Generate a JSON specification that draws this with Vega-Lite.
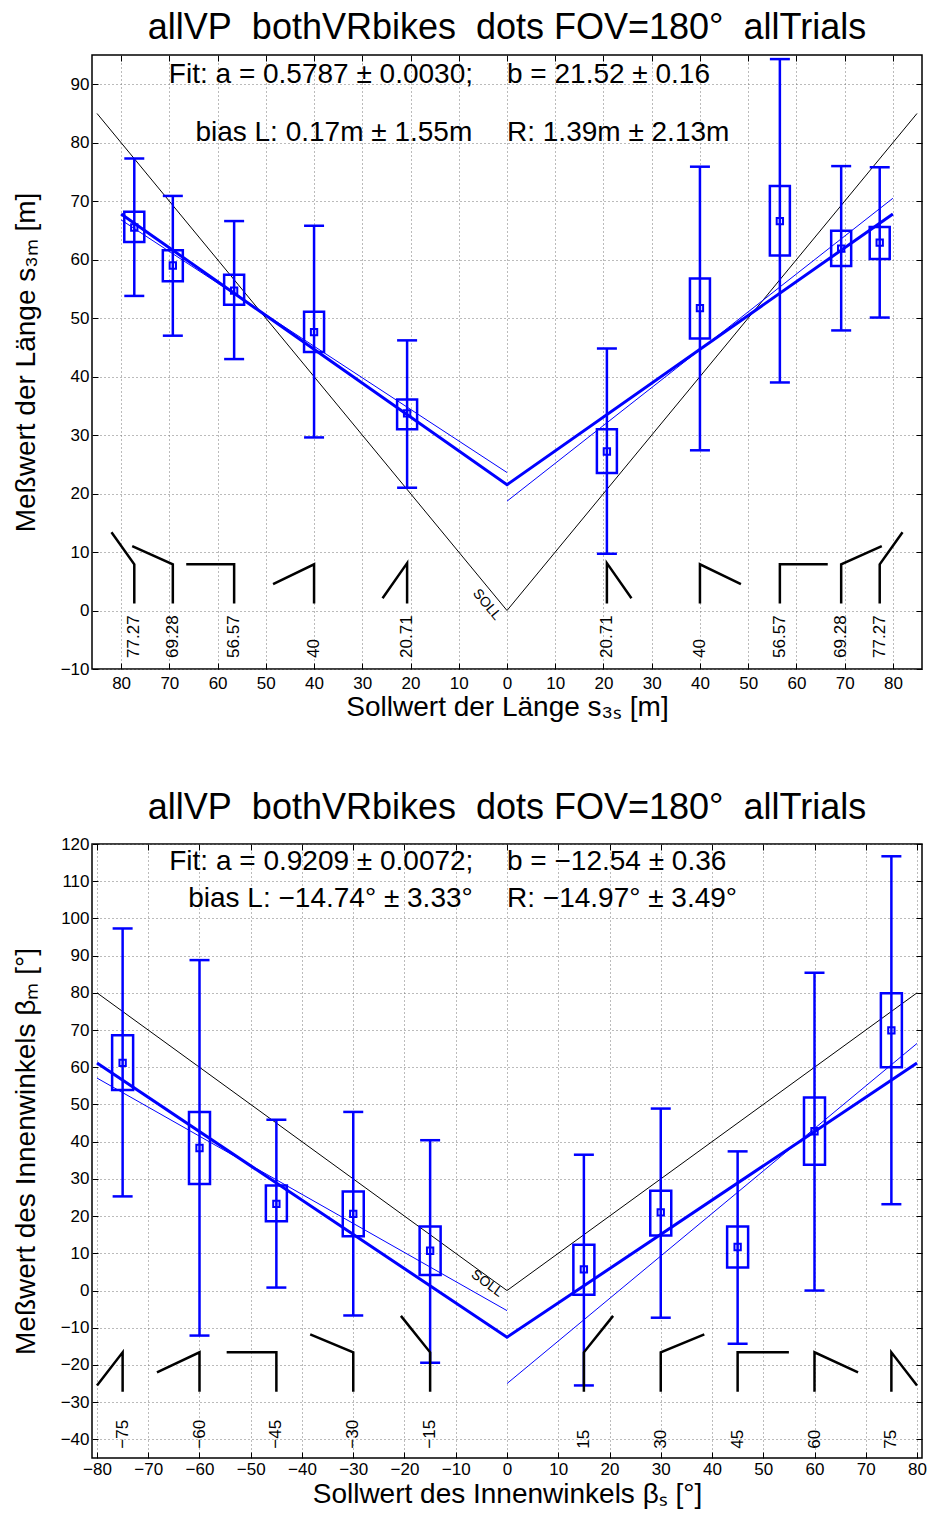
{
  "$schema": "https://vega.github.io/schema/vega-lite/v6.json",
  "padding": {"top": 8, "left": 11, "right": 8, "bottom": 0},
  "spacing": 67,
  "config": {
    "font": "Liberation Sans",
    "view": {"stroke": "black", "strokeWidth": 1.5},
    "axis": {
      "labelFont": "Liberation Sans", "labelFontSize": 17, "labelColor": "black",
      "titleFont": "Liberation Sans", "titleFontSize": 28, "titleFontWeight": "normal", "titleColor": "black",
      "domain": false, "tickColor": "black", "tickSize": -6, "tickWidth": 1,
      "gridDash": [1, 3], "gridColor": "#777", "gridOpacity": 1, "gridWidth": 1,
      "labelFlush": false, "labelOverlap": false
    },
    "title": {"font": "Liberation Sans", "fontSize": 36, "fontWeight": "normal", "color": "black", "offset": 8}
  },
  "datasets": {
    "tl": [
      {"s": "soll", "x": -85, "y": 85}, {"s": "soll", "x": 0, "y": 0}, {"s": "soll", "x": 85, "y": 85},
      {"s": "fit", "x": -80, "y": 67.82}, {"s": "fit", "x": 0, "y": 21.52}, {"s": "fit", "x": 80, "y": 67.82},
      {"s": "left", "x": -80, "y": 66.8}, {"s": "left", "x": 0, "y": 23.6},
      {"s": "right", "x": 0, "y": 18.7}, {"s": "right", "x": 80, "y": 70.5}
    ],
    "tb": [
      {"x": -77.27, "mean": 65.5, "qlo": 63.0, "qhi": 68.2, "wlo": 53.8, "whi": 77.3},
      {"x": -69.28, "mean": 59.0, "qlo": 56.3, "qhi": 61.6, "wlo": 47.0, "whi": 70.9},
      {"x": -56.57, "mean": 54.7, "qlo": 52.3, "qhi": 57.4, "wlo": 43.0, "whi": 66.6},
      {"x": -40, "mean": 47.6, "qlo": 44.2, "qhi": 51.1, "wlo": 29.6, "whi": 65.8},
      {"x": -20.71, "mean": 33.7, "qlo": 31.0, "qhi": 36.1, "wlo": 21.0, "whi": 46.2},
      {"x": 20.71, "mean": 27.2, "qlo": 23.5, "qhi": 31.0, "wlo": 9.7, "whi": 44.8},
      {"x": 40, "mean": 51.7, "qlo": 46.5, "qhi": 56.8, "wlo": 27.4, "whi": 75.9},
      {"x": 56.57, "mean": 66.6, "qlo": 60.7, "qhi": 72.6, "wlo": 39.0, "whi": 94.3},
      {"x": 69.28, "mean": 61.9, "qlo": 58.9, "qhi": 64.95, "wlo": 47.9, "whi": 76.0},
      {"x": 77.27, "mean": 62.9, "qlo": 60.1, "qhi": 65.6, "wlo": 50.1, "whi": 75.8}
    ],
    "tg": [
      {"g": "a", "o": 0, "x": -77.27, "y": 1.2}, {"g": "a", "o": 1, "x": -77.27, "y": 7.9}, {"g": "a", "o": 2, "x": -82.0, "y": 13.4},
      {"g": "b", "o": 0, "x": -69.28, "y": 1.2}, {"g": "b", "o": 1, "x": -69.28, "y": 7.9}, {"g": "b", "o": 2, "x": -77.7, "y": 11.0},
      {"g": "c", "o": 0, "x": -56.57, "y": 1.2}, {"g": "c", "o": 1, "x": -56.57, "y": 7.9}, {"g": "c", "o": 2, "x": -66.5, "y": 7.9},
      {"g": "d", "o": 0, "x": -40, "y": 1.2}, {"g": "d", "o": 1, "x": -40, "y": 7.9}, {"g": "d", "o": 2, "x": -48.5, "y": 4.5},
      {"g": "e", "o": 0, "x": -20.71, "y": 1.2}, {"g": "e", "o": 1, "x": -20.71, "y": 8.1}, {"g": "e", "o": 2, "x": -25.8, "y": 2.1},
      {"g": "f", "o": 0, "x": 20.71, "y": 1.2}, {"g": "f", "o": 1, "x": 20.71, "y": 8.1}, {"g": "f", "o": 2, "x": 25.8, "y": 2.1},
      {"g": "h", "o": 0, "x": 40, "y": 1.2}, {"g": "h", "o": 1, "x": 40, "y": 7.9}, {"g": "h", "o": 2, "x": 48.5, "y": 4.5},
      {"g": "i", "o": 0, "x": 56.57, "y": 1.2}, {"g": "i", "o": 1, "x": 56.57, "y": 7.9}, {"g": "i", "o": 2, "x": 66.5, "y": 7.9},
      {"g": "j", "o": 0, "x": 69.28, "y": 1.2}, {"g": "j", "o": 1, "x": 69.28, "y": 7.9}, {"g": "j", "o": 2, "x": 77.7, "y": 11.0},
      {"g": "k", "o": 0, "x": 77.27, "y": 1.2}, {"g": "k", "o": 1, "x": 77.27, "y": 7.9}, {"g": "k", "o": 2, "x": 82.0, "y": 13.4}
    ],
    "tn": [
      {"x": -77.27, "t": "77.27"}, {"x": -69.28, "t": "69.28"}, {"x": -56.57, "t": "56.57"}, {"x": -40, "t": "40"}, {"x": -20.71, "t": "20.71"},
      {"x": 20.71, "t": "20.71"}, {"x": 40, "t": "40"}, {"x": 56.57, "t": "56.57"}, {"x": 69.28, "t": "69.28"}, {"x": 77.27, "t": "77.27"}
    ],
    "tt": [
      {"t": "Fit: a = 0.5787 ± 0.0030;", "x": -70.1, "y": 91.6},
      {"t": "b = 21.52 ± 0.16", "x": 0, "y": 91.6},
      {"t": "bias L: 0.17m ± 1.55m", "x": -64.6, "y": 81.7},
      {"t": "R: 1.39m ± 2.13m", "x": 0, "y": 81.7}
    ],
    "ts": [{"t": "SOLL", "x": -4.2, "y": 1.0}],
    "bl": [
      {"s": "soll", "x": -80, "y": 80}, {"s": "soll", "x": 0, "y": 0}, {"s": "soll", "x": 80, "y": 80},
      {"s": "fit", "x": -80, "y": 61.13}, {"s": "fit", "x": 0, "y": -12.54}, {"s": "fit", "x": 80, "y": 61.13},
      {"s": "left", "x": -80, "y": 57.1}, {"s": "left", "x": 0, "y": -5.4},
      {"s": "right", "x": 0, "y": -25.0}, {"s": "right", "x": 80, "y": 66.4}
    ],
    "bb": [
      {"x": -75, "mean": 61.2, "qlo": 53.9, "qhi": 68.6, "wlo": 25.3, "whi": 97.3},
      {"x": -60, "mean": 38.3, "qlo": 28.6, "qhi": 48.0, "wlo": -12.1, "whi": 88.8},
      {"x": -45, "mean": 23.3, "qlo": 18.6, "qhi": 28.2, "wlo": 0.8, "whi": 45.9},
      {"x": -30, "mean": 20.6, "qlo": 14.6, "qhi": 26.6, "wlo": -6.7, "whi": 48.0},
      {"x": -15, "mean": 10.7, "qlo": 4.2, "qhi": 17.2, "wlo": -19.4, "whi": 40.4},
      {"x": 15, "mean": 5.7, "qlo": -1.1, "qhi": 12.3, "wlo": -25.5, "whi": 36.5},
      {"x": 30, "mean": 21.0, "qlo": 14.8, "qhi": 26.8, "wlo": -7.3, "whi": 48.9},
      {"x": 45, "mean": 11.7, "qlo": 6.2, "qhi": 17.2, "wlo": -14.3, "whi": 37.4},
      {"x": 60, "mean": 42.8, "qlo": 33.8, "qhi": 51.9, "wlo": 0.0, "whi": 85.4},
      {"x": 75, "mean": 69.9, "qlo": 60.0, "qhi": 79.9, "wlo": 23.2, "whi": 116.7}
    ],
    "bg": [
      {"g": "a", "o": 0, "x": -75, "y": -27.2}, {"g": "a", "o": 1, "x": -75, "y": -16.6}, {"g": "a", "o": 2, "x": -80, "y": -25.5},
      {"g": "b", "o": 0, "x": -60, "y": -27.2}, {"g": "b", "o": 1, "x": -60, "y": -16.6}, {"g": "b", "o": 2, "x": -68.3, "y": -22.0},
      {"g": "c", "o": 0, "x": -45, "y": -27.2}, {"g": "c", "o": 1, "x": -45, "y": -16.6}, {"g": "c", "o": 2, "x": -54.7, "y": -16.6},
      {"g": "d", "o": 0, "x": -30, "y": -27.2}, {"g": "d", "o": 1, "x": -30, "y": -16.6}, {"g": "d", "o": 2, "x": -38.4, "y": -11.8},
      {"g": "e", "o": 0, "x": -15, "y": -27.2}, {"g": "e", "o": 1, "x": -15, "y": -16.6}, {"g": "e", "o": 2, "x": -20.7, "y": -6.8},
      {"g": "f", "o": 0, "x": 15, "y": -27.2}, {"g": "f", "o": 1, "x": 15, "y": -16.6}, {"g": "f", "o": 2, "x": 20.7, "y": -6.8},
      {"g": "h", "o": 0, "x": 30, "y": -27.2}, {"g": "h", "o": 1, "x": 30, "y": -16.6}, {"g": "h", "o": 2, "x": 38.5, "y": -11.8},
      {"g": "i", "o": 0, "x": 45, "y": -27.2}, {"g": "i", "o": 1, "x": 45, "y": -16.6}, {"g": "i", "o": 2, "x": 55.0, "y": -16.6},
      {"g": "j", "o": 0, "x": 60, "y": -27.2}, {"g": "j", "o": 1, "x": 60, "y": -16.6}, {"g": "j", "o": 2, "x": 68.5, "y": -22.0},
      {"g": "k", "o": 0, "x": 75, "y": -27.2}, {"g": "k", "o": 1, "x": 75, "y": -16.6}, {"g": "k", "o": 2, "x": 80, "y": -25.5}
    ],
    "bn": [
      {"x": -75, "t": "−75"}, {"x": -60, "t": "−60"}, {"x": -45, "t": "−45"}, {"x": -30, "t": "−30"}, {"x": -15, "t": "−15"},
      {"x": 15, "t": "15"}, {"x": 30, "t": "30"}, {"x": 45, "t": "45"}, {"x": 60, "t": "60"}, {"x": 75, "t": "75"}
    ],
    "bt": [
      {"t": "Fit: a = 0.9209 ± 0.0072;", "x": -65.9, "y": 115.1},
      {"t": "b = −12.54 ± 0.36", "x": 0, "y": 115.1},
      {"t": "bias L: −14.74° ± 3.33°", "x": -62.2, "y": 105.1},
      {"t": "R: −14.97° ± 3.49°", "x": 0, "y": 105.1}
    ],
    "bs": [{"t": "SOLL", "x": -3.9, "y": 1.9}]
  },
  "vconcat": [
    {
      "title": {"text": "allVP\u00a0 bothVRbikes\u00a0 dots FOV=180°\u00a0 allTrials"},
      "width": 830, "height": 614,
      "resolve": {"axis": {"x": "independent", "y": "independent"}},
      "layer": [
        {
          "data": {"name": "tl"},
          "transform": [{"filter": "datum.s === 'soll'"}],
          "mark": {"type": "line", "color": "black", "strokeWidth": 1},
          "encoding": {
            "x": {"field": "x", "type": "quantitative", "scale": {"domain": [-85, 85], "nice": false, "zero": false},
              "axis": {"orient": "bottom", "values": [-80, -70, -60, -50, -40, -30, -20, -10, 0, 10, 20, 30, 40, 50, 60, 70, 80], "labelExpr": "abs(datum.value)", "grid": true, "labelPadding": 12, "titlePadding": 2, "title": "Sollwert der Länge s₃ₛ [m]"}},
            "y": {"field": "y", "type": "quantitative", "scale": {"domain": [-10, 95], "nice": false, "zero": false},
              "axis": {"orient": "left", "values": [-10, 0, 10, 20, 30, 40, 50, 60, 70, 80, 90], "grid": true, "labelPadding": 9, "titlePadding": 20, "title": "Meßwert der Länge s₃ₘ [m]"}}
          }
        },
        {
          "data": {"name": "tl"},
          "transform": [{"filter": "datum.s === 'fit'"}],
          "mark": {"type": "line", "color": "#0000ff", "strokeWidth": 3},
          "encoding": {
            "x": {"field": "x", "type": "quantitative", "scale": {"domain": [-85, 85], "nice": false, "zero": false},
              "axis": {"orient": "top", "values": [-80, -70, -60, -50, -40, -30, -20, -10, 0, 10, 20, 30, 40, 50, 60, 70, 80], "labels": false, "grid": false, "title": null}},
            "y": {"field": "y", "type": "quantitative", "scale": {"domain": [-10, 95], "nice": false, "zero": false},
              "axis": {"orient": "right", "values": [-10, 0, 10, 20, 30, 40, 50, 60, 70, 80, 90], "labels": false, "grid": false, "title": null}}
          }
        },
        {
          "data": {"name": "tl"},
          "transform": [{"filter": "datum.s === 'left' || datum.s === 'right'"}],
          "mark": {"type": "line", "color": "#0000ff", "strokeWidth": 1},
          "encoding": {
            "x": {"field": "x", "type": "quantitative", "scale": {"domain": [-85, 85], "nice": false, "zero": false}, "axis": null},
            "y": {"field": "y", "type": "quantitative", "scale": {"domain": [-10, 95], "nice": false, "zero": false}, "axis": null},
            "detail": {"field": "s"}
          }
        },
        {
          "data": {"name": "tb"},
          "mark": {"type": "rule", "color": "#0000ff", "strokeWidth": 2.5},
          "encoding": {
            "x": {"field": "x", "type": "quantitative", "scale": {"domain": [-85, 85], "nice": false, "zero": false}, "axis": null},
            "y": {"field": "wlo", "type": "quantitative", "scale": {"domain": [-10, 95], "nice": false, "zero": false}, "axis": null},
            "y2": {"field": "whi"}
          }
        },
        {
          "data": {"name": "tb"},
          "mark": {"type": "tick", "orient": "horizontal", "color": "#0000ff", "size": 20, "thickness": 2.5, "opacity": 1},
          "encoding": {
            "x": {"field": "x", "type": "quantitative", "scale": {"domain": [-85, 85], "nice": false, "zero": false}, "axis": null},
            "y": {"field": "wlo", "type": "quantitative", "scale": {"domain": [-10, 95], "nice": false, "zero": false}, "axis": null}
          }
        },
        {
          "data": {"name": "tb"},
          "mark": {"type": "tick", "orient": "horizontal", "color": "#0000ff", "size": 20, "thickness": 2.5, "opacity": 1},
          "encoding": {
            "x": {"field": "x", "type": "quantitative", "scale": {"domain": [-85, 85], "nice": false, "zero": false}, "axis": null},
            "y": {"field": "whi", "type": "quantitative", "scale": {"domain": [-10, 95], "nice": false, "zero": false}, "axis": null}
          }
        },
        {
          "data": {"name": "tb"},
          "mark": {"type": "bar", "width": 20, "filled": false, "color": "#0000ff", "strokeWidth": 2.5},
          "encoding": {
            "x": {"field": "x", "type": "quantitative", "scale": {"domain": [-85, 85], "nice": false, "zero": false}, "axis": null},
            "y": {"field": "qlo", "type": "quantitative", "scale": {"domain": [-10, 95], "nice": false, "zero": false}, "axis": null},
            "y2": {"field": "qhi"}
          }
        },
        {
          "data": {"name": "tb"},
          "mark": {"type": "point", "shape": "square", "size": 40, "filled": false, "color": "#0000ff", "strokeWidth": 2, "opacity": 1},
          "encoding": {
            "x": {"field": "x", "type": "quantitative", "scale": {"domain": [-85, 85], "nice": false, "zero": false}, "axis": null},
            "y": {"field": "mean", "type": "quantitative", "scale": {"domain": [-10, 95], "nice": false, "zero": false}, "axis": null}
          }
        },
        {
          "data": {"name": "tg"},
          "mark": {"type": "line", "color": "black", "strokeWidth": 2.5, "strokeJoin": "miter"},
          "encoding": {
            "x": {"field": "x", "type": "quantitative", "scale": {"domain": [-85, 85], "nice": false, "zero": false}, "axis": null},
            "y": {"field": "y", "type": "quantitative", "scale": {"domain": [-10, 95], "nice": false, "zero": false}, "axis": null},
            "detail": {"field": "g"},
            "order": {"field": "o"}
          }
        },
        {
          "data": {"name": "tn"},
          "mark": {"type": "text", "angle": 270, "align": "left", "baseline": "middle", "fontSize": 17, "color": "black"},
          "encoding": {
            "x": {"field": "x", "type": "quantitative", "scale": {"domain": [-85, 85], "nice": false, "zero": false}, "axis": null},
            "y": {"datum": -8.1, "type": "quantitative", "scale": {"domain": [-10, 95], "nice": false, "zero": false}, "axis": null},
            "text": {"field": "t"}
          }
        },
        {
          "data": {"name": "tt"},
          "mark": {"type": "text", "align": "left", "baseline": "middle", "fontSize": 28, "color": "black"},
          "encoding": {
            "x": {"field": "x", "type": "quantitative", "scale": {"domain": [-85, 85], "nice": false, "zero": false}, "axis": null},
            "y": {"field": "y", "type": "quantitative", "scale": {"domain": [-10, 95], "nice": false, "zero": false}, "axis": null},
            "text": {"field": "t"}
          }
        },
        {
          "data": {"name": "ts"},
          "mark": {"type": "text", "align": "center", "baseline": "middle", "fontSize": 14, "angle": 50, "color": "black"},
          "encoding": {
            "x": {"field": "x", "type": "quantitative", "scale": {"domain": [-85, 85], "nice": false, "zero": false}, "axis": null},
            "y": {"field": "y", "type": "quantitative", "scale": {"domain": [-10, 95], "nice": false, "zero": false}, "axis": null},
            "text": {"field": "t"}
          }
        }
      ]
    },
    {
      "title": {"text": "allVP\u00a0 bothVRbikes\u00a0 dots FOV=180°\u00a0 allTrials"},
      "width": 830, "height": 614,
      "resolve": {"axis": {"x": "independent", "y": "independent"}},
      "layer": [
        {
          "data": {"name": "bl"},
          "transform": [{"filter": "datum.s === 'soll'"}],
          "mark": {"type": "line", "color": "black", "strokeWidth": 1},
          "encoding": {
            "x": {"field": "x", "type": "quantitative", "scale": {"domain": [-80, 80], "nice": false, "zero": false},
              "axis": {"orient": "bottom", "values": [-80, -70, -60, -50, -40, -30, -20, -10, 0, 10, 20, 30, 40, 50, 60, 70, 80], "grid": true, "labelPadding": 9, "titlePadding": 3, "title": "Sollwert des Innenwinkels βₛ [°]"}},
            "y": {"field": "y", "type": "quantitative", "scale": {"domain": [-45, 120], "nice": false, "zero": false},
              "axis": {"orient": "left", "values": [-40, -30, -20, -10, 0, 10, 20, 30, 40, 50, 60, 70, 80, 90, 100, 110, 120], "grid": true, "labelPadding": 9, "titlePadding": 20, "title": "Meßwert des Innenwinkels βₘ [°]"}}
          }
        },
        {
          "data": {"name": "bl"},
          "transform": [{"filter": "datum.s === 'fit'"}],
          "mark": {"type": "line", "color": "#0000ff", "strokeWidth": 3},
          "encoding": {
            "x": {"field": "x", "type": "quantitative", "scale": {"domain": [-80, 80], "nice": false, "zero": false},
              "axis": {"orient": "top", "values": [-80, -70, -60, -50, -40, -30, -20, -10, 0, 10, 20, 30, 40, 50, 60, 70, 80], "labels": false, "grid": false, "title": null}},
            "y": {"field": "y", "type": "quantitative", "scale": {"domain": [-45, 120], "nice": false, "zero": false},
              "axis": {"orient": "right", "values": [-40, -30, -20, -10, 0, 10, 20, 30, 40, 50, 60, 70, 80, 90, 100, 110, 120], "labels": false, "grid": false, "title": null}}
          }
        },
        {
          "data": {"name": "bl"},
          "transform": [{"filter": "datum.s === 'left' || datum.s === 'right'"}],
          "mark": {"type": "line", "color": "#0000ff", "strokeWidth": 1},
          "encoding": {
            "x": {"field": "x", "type": "quantitative", "scale": {"domain": [-80, 80], "nice": false, "zero": false}, "axis": null},
            "y": {"field": "y", "type": "quantitative", "scale": {"domain": [-45, 120], "nice": false, "zero": false}, "axis": null},
            "detail": {"field": "s"}
          }
        },
        {
          "data": {"name": "bb"},
          "mark": {"type": "rule", "color": "#0000ff", "strokeWidth": 2.5},
          "encoding": {
            "x": {"field": "x", "type": "quantitative", "scale": {"domain": [-80, 80], "nice": false, "zero": false}, "axis": null},
            "y": {"field": "wlo", "type": "quantitative", "scale": {"domain": [-45, 120], "nice": false, "zero": false}, "axis": null},
            "y2": {"field": "whi"}
          }
        },
        {
          "data": {"name": "bb"},
          "mark": {"type": "tick", "orient": "horizontal", "color": "#0000ff", "size": 20, "thickness": 2.5, "opacity": 1},
          "encoding": {
            "x": {"field": "x", "type": "quantitative", "scale": {"domain": [-80, 80], "nice": false, "zero": false}, "axis": null},
            "y": {"field": "wlo", "type": "quantitative", "scale": {"domain": [-45, 120], "nice": false, "zero": false}, "axis": null}
          }
        },
        {
          "data": {"name": "bb"},
          "mark": {"type": "tick", "orient": "horizontal", "color": "#0000ff", "size": 20, "thickness": 2.5, "opacity": 1},
          "encoding": {
            "x": {"field": "x", "type": "quantitative", "scale": {"domain": [-80, 80], "nice": false, "zero": false}, "axis": null},
            "y": {"field": "whi", "type": "quantitative", "scale": {"domain": [-45, 120], "nice": false, "zero": false}, "axis": null}
          }
        },
        {
          "data": {"name": "bb"},
          "mark": {"type": "bar", "width": 21, "filled": false, "color": "#0000ff", "strokeWidth": 2.5},
          "encoding": {
            "x": {"field": "x", "type": "quantitative", "scale": {"domain": [-80, 80], "nice": false, "zero": false}, "axis": null},
            "y": {"field": "qlo", "type": "quantitative", "scale": {"domain": [-45, 120], "nice": false, "zero": false}, "axis": null},
            "y2": {"field": "qhi"}
          }
        },
        {
          "data": {"name": "bb"},
          "mark": {"type": "point", "shape": "square", "size": 40, "filled": false, "color": "#0000ff", "strokeWidth": 2, "opacity": 1},
          "encoding": {
            "x": {"field": "x", "type": "quantitative", "scale": {"domain": [-80, 80], "nice": false, "zero": false}, "axis": null},
            "y": {"field": "mean", "type": "quantitative", "scale": {"domain": [-45, 120], "nice": false, "zero": false}, "axis": null}
          }
        },
        {
          "data": {"name": "bg"},
          "mark": {"type": "line", "color": "black", "strokeWidth": 2.5, "strokeJoin": "miter"},
          "encoding": {
            "x": {"field": "x", "type": "quantitative", "scale": {"domain": [-80, 80], "nice": false, "zero": false}, "axis": null},
            "y": {"field": "y", "type": "quantitative", "scale": {"domain": [-45, 120], "nice": false, "zero": false}, "axis": null},
            "detail": {"field": "g"},
            "order": {"field": "o"}
          }
        },
        {
          "data": {"name": "bn"},
          "mark": {"type": "text", "angle": 270, "align": "left", "baseline": "middle", "fontSize": 17, "color": "black"},
          "encoding": {
            "x": {"field": "x", "type": "quantitative", "scale": {"domain": [-80, 80], "nice": false, "zero": false}, "axis": null},
            "y": {"datum": -42.5, "type": "quantitative", "scale": {"domain": [-45, 120], "nice": false, "zero": false}, "axis": null},
            "text": {"field": "t"}
          }
        },
        {
          "data": {"name": "bt"},
          "mark": {"type": "text", "align": "left", "baseline": "middle", "fontSize": 28, "color": "black"},
          "encoding": {
            "x": {"field": "x", "type": "quantitative", "scale": {"domain": [-80, 80], "nice": false, "zero": false}, "axis": null},
            "y": {"field": "y", "type": "quantitative", "scale": {"domain": [-45, 120], "nice": false, "zero": false}, "axis": null},
            "text": {"field": "t"}
          }
        },
        {
          "data": {"name": "bs"},
          "mark": {"type": "text", "align": "center", "baseline": "middle", "fontSize": 14, "angle": 36, "color": "black"},
          "encoding": {
            "x": {"field": "x", "type": "quantitative", "scale": {"domain": [-80, 80], "nice": false, "zero": false}, "axis": null},
            "y": {"field": "y", "type": "quantitative", "scale": {"domain": [-45, 120], "nice": false, "zero": false}, "axis": null},
            "text": {"field": "t"}
          }
        }
      ]
    }
  ]
}
